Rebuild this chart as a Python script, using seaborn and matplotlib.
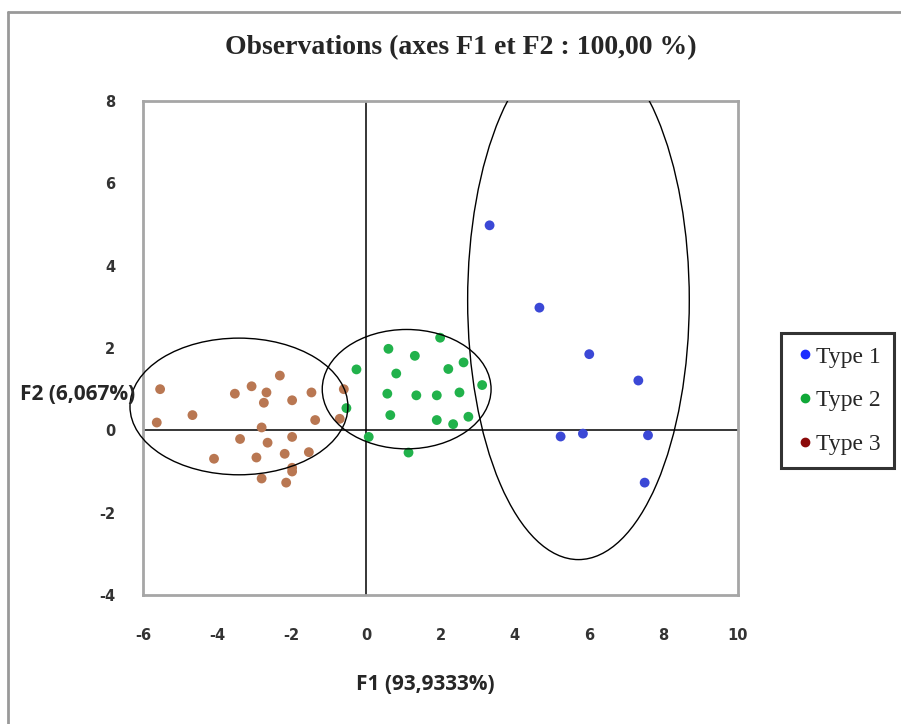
"""Observations plot F1/F2"""
import numpy as np
import pandas as pd
import matplotlib
matplotlib.use('Agg')
import matplotlib.pyplot as plt
from matplotlib.patches import Ellipse
from matplotlib.lines import Line2D
import seaborn as sns

sns.set_style('white')
plt.rcParams['axes.unicode_minus'] = False

# data
type1_x = [3.32, 4.66, 6.00, 7.32, 5.23, 5.83, 7.58, 7.49]
type1_y = [4.98, 2.98, 1.85, 1.21, -0.15, -0.08, -0.12, -1.27]

type2_x = [1.99, 0.60, 1.31, -0.26, 0.81, 2.21, 2.62, 3.12, 0.57, 1.35,
           1.90, 2.51, -0.53, 0.65, 1.90, 2.34, 2.75, 0.07, 1.14]
type2_y = [2.25, 1.98, 1.81, 1.48, 1.38, 1.49, 1.65, 1.10, 0.89, 0.85,
           0.85, 0.92, 0.54, 0.37, 0.25, 0.15, 0.33, -0.16, -0.54]

type3_x = [-5.54, -5.63, -4.67, -4.09, -3.53, -3.08, -2.68, -2.75, -2.32, -1.99,
           -1.47, -1.37, -0.60, -0.71, -2.81, -3.39, -2.65, -1.99, -2.95, -2.19,
           -1.54, -1.99, -1.99, -2.81, -2.15]
type3_y = [1.00, 0.19, 0.37, -0.69, 0.89, 1.07, 0.92, 0.67, 1.33, 0.73,
           0.92, 0.25, 1.00, 0.28, 0.07, -0.21, -0.30, -0.16, -0.66, -0.57,
           -0.53, -0.91, -1.00, -1.17, -1.27]

types = ['Type 1', 'Type 2', 'Type 3']
point_colors = ['#3b48d6', '#21b24b', '#b97752']
legend_colors = ['#1a2cff', '#10a838', '#8b0a0a']

# confidence ellipses: center x, center y, width, height
ellipse_cx = [5.71, 1.09, -3.42]
ellipse_cy = [3.16, 1.00, 0.58]
ellipse_w = [5.96, 4.54, 5.86]
ellipse_h = [12.6, 2.90, 3.32]

x_ticks = [-6, -4, -2, 0, 2, 4, 6, 8, 10]
y_ticks = [-4, -2, 0, 2, 4, 6, 8]

df = pd.DataFrame({
    'F1': type1_x + type2_x + type3_x,
    'F2': type1_y + type2_y + type3_y,
    'Type': ['Type 1'] * len(type1_x) + ['Type 2'] * len(type2_x) + ['Type 3'] * len(type3_x),
})

fig = plt.figure(figsize=(9.01, 7.24), dpi=100)
ax = fig.add_axes([143 / 901, 1 - 595 / 724, 595 / 901, 494 / 724])

sns.scatterplot(data=df, x='F1', y='F2', hue='Type', palette=dict(zip(types, point_colors)),
                s=50, edgecolor='none', legend=False, ax=ax, zorder=3)

ax.axhline(0, color='black', lw=1.1, zorder=2)
ax.axvline(0, color='black', lw=1.1, zorder=2)

for i in range(3):
    e = Ellipse((ellipse_cx[i], ellipse_cy[i]), ellipse_w[i], ellipse_h[i],
                fill=False, edgecolor='black', lw=1.0, zorder=4, clip_on=(i == 0))
    ax.add_patch(e)

ax.set_xlim(-6, 10)
ax.set_ylim(-4, 8)
ax.set_xticks(x_ticks)
ax.set_yticks(y_ticks)
ax.tick_params(length=0, labelsize=10.5, labelcolor='#333333')
ax.tick_params(axis='x', pad=24)
ax.tick_params(axis='y', pad=20)
for lab in ax.get_xticklabels() + ax.get_yticklabels():
    lab.set_fontweight('bold')
ax.set_xlabel('')
ax.set_ylabel('')
for sp in ax.spines.values():
    sp.set_color('#a6a6a6')
    sp.set_linewidth(2)

fig.text(461 / 901, 1 - 48 / 724, 'Observations (axes F1 et F2 : 100,00 %)',
         ha='center', va='center', fontsize=20, fontweight='bold', family='Liberation Serif')
fig.text(425 / 901, 1 - 685 / 724, 'F1 (93,9333%)', ha='center', va='center',
         fontsize=15, fontweight='bold', family='Open Sans')
fig.text(20 / 901, 1 - 395 / 724, 'F2 (6,067%)', ha='left', va='center',
         fontsize=15, fontweight='bold', family='Open Sans')

handles = [Line2D([], [], marker='o', ls='', color=c, markersize=6) for c in legend_colors]
leg = fig.legend(handles, types, loc='upper left', bbox_to_anchor=(781 / 901, 1 - 333 / 724),
                 prop={'family': 'Liberation Serif', 'size': 17}, frameon=True, fancybox=False,
                 handletextpad=0.05, handlelength=0.9, borderpad=0.55, labelspacing=0.95,
                 borderaxespad=0)
leg.get_frame().set_edgecolor('black')
leg.get_frame().set_linewidth(2.2)

# outer border of the screenshot
fig.add_artist(Line2D([8 / 901, 1], [1 - 12 / 724, 1 - 12 / 724], color='#999999', lw=2))
fig.add_artist(Line2D([8 / 901, 8 / 901], [0, 1 - 12 / 724], color='#999999', lw=2))

fig.savefig('out.png', dpi=100)
